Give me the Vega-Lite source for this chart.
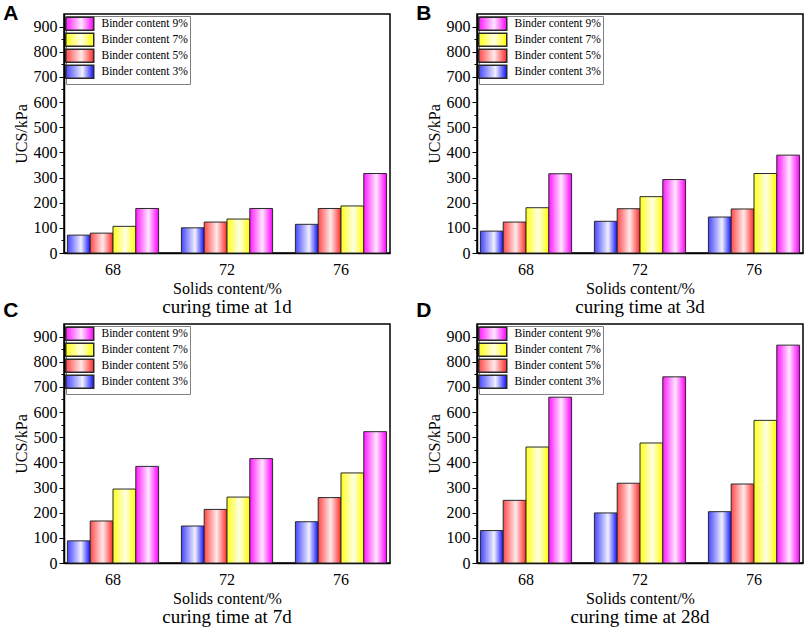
{
  "$schema": "https://vega.github.io/schema/vega-lite/v6.json",
  "padding": {"left": 3, "top": 3, "right": 3, "bottom": 3},
  "background": "white",
  "data": {
    "values": [
      {"panel": "A", "solids": "68", "binder": "Binder content 3%", "ucs": 71},
      {"panel": "A", "solids": "68", "binder": "Binder content 5%", "ucs": 79},
      {"panel": "A", "solids": "68", "binder": "Binder content 7%", "ucs": 106},
      {"panel": "A", "solids": "68", "binder": "Binder content 9%", "ucs": 177},
      {"panel": "A", "solids": "72", "binder": "Binder content 3%", "ucs": 100},
      {"panel": "A", "solids": "72", "binder": "Binder content 5%", "ucs": 123},
      {"panel": "A", "solids": "72", "binder": "Binder content 7%", "ucs": 135},
      {"panel": "A", "solids": "72", "binder": "Binder content 9%", "ucs": 177},
      {"panel": "A", "solids": "76", "binder": "Binder content 3%", "ucs": 114},
      {"panel": "A", "solids": "76", "binder": "Binder content 5%", "ucs": 177},
      {"panel": "A", "solids": "76", "binder": "Binder content 7%", "ucs": 187},
      {"panel": "A", "solids": "76", "binder": "Binder content 9%", "ucs": 316},
      {"panel": "B", "solids": "68", "binder": "Binder content 3%", "ucs": 87},
      {"panel": "B", "solids": "68", "binder": "Binder content 5%", "ucs": 123},
      {"panel": "B", "solids": "68", "binder": "Binder content 7%", "ucs": 180},
      {"panel": "B", "solids": "68", "binder": "Binder content 9%", "ucs": 315},
      {"panel": "B", "solids": "72", "binder": "Binder content 3%", "ucs": 126},
      {"panel": "B", "solids": "72", "binder": "Binder content 5%", "ucs": 176},
      {"panel": "B", "solids": "72", "binder": "Binder content 7%", "ucs": 224},
      {"panel": "B", "solids": "72", "binder": "Binder content 9%", "ucs": 292},
      {"panel": "B", "solids": "76", "binder": "Binder content 3%", "ucs": 143},
      {"panel": "B", "solids": "76", "binder": "Binder content 5%", "ucs": 175},
      {"panel": "B", "solids": "76", "binder": "Binder content 7%", "ucs": 316},
      {"panel": "B", "solids": "76", "binder": "Binder content 9%", "ucs": 389},
      {"panel": "C", "solids": "68", "binder": "Binder content 3%", "ucs": 88},
      {"panel": "C", "solids": "68", "binder": "Binder content 5%", "ucs": 167},
      {"panel": "C", "solids": "68", "binder": "Binder content 7%", "ucs": 294},
      {"panel": "C", "solids": "68", "binder": "Binder content 9%", "ucs": 384},
      {"panel": "C", "solids": "72", "binder": "Binder content 3%", "ucs": 147},
      {"panel": "C", "solids": "72", "binder": "Binder content 5%", "ucs": 213},
      {"panel": "C", "solids": "72", "binder": "Binder content 7%", "ucs": 262},
      {"panel": "C", "solids": "72", "binder": "Binder content 9%", "ucs": 415},
      {"panel": "C", "solids": "76", "binder": "Binder content 3%", "ucs": 164},
      {"panel": "C", "solids": "76", "binder": "Binder content 5%", "ucs": 260},
      {"panel": "C", "solids": "76", "binder": "Binder content 7%", "ucs": 358},
      {"panel": "C", "solids": "76", "binder": "Binder content 9%", "ucs": 522},
      {"panel": "D", "solids": "68", "binder": "Binder content 3%", "ucs": 129},
      {"panel": "D", "solids": "68", "binder": "Binder content 5%", "ucs": 249},
      {"panel": "D", "solids": "68", "binder": "Binder content 7%", "ucs": 461},
      {"panel": "D", "solids": "68", "binder": "Binder content 9%", "ucs": 659},
      {"panel": "D", "solids": "72", "binder": "Binder content 3%", "ucs": 199},
      {"panel": "D", "solids": "72", "binder": "Binder content 5%", "ucs": 317},
      {"panel": "D", "solids": "72", "binder": "Binder content 7%", "ucs": 477},
      {"panel": "D", "solids": "72", "binder": "Binder content 9%", "ucs": 740},
      {"panel": "D", "solids": "76", "binder": "Binder content 3%", "ucs": 204},
      {"panel": "D", "solids": "76", "binder": "Binder content 5%", "ucs": 314},
      {"panel": "D", "solids": "76", "binder": "Binder content 7%", "ucs": 567},
      {"panel": "D", "solids": "76", "binder": "Binder content 9%", "ucs": 866}
    ]
  },
  "config": {
    "view": {"stroke": "black", "strokeWidth": 1.5},
    "concat": {"spacing": 25},
    "axis": {
      "domainColor": "black",
      "domainWidth": 1.5,
      "tickColor": "black",
      "labelColor": "black",
      "titleColor": "black",
      "labelFont": "Liberation Serif",
      "titleFont": "Liberation Serif",
      "labelFontSize": 16,
      "titleFontSize": 16,
      "titleFontWeight": "normal",
      "grid": false
    },
    "legend": {
      "orient": "top-left",
      "offset": 2,
      "padding": 2,
      "fillColor": "white",
      "strokeColor": "#808080",
      "symbolType": "M-3.5,-1.6H3.5V1.6H-3.5Z",
      "symbolSize": 64,
      "symbolOffset": 6,
      "symbolOpacity": 1,
      "labelFont": "Liberation Serif",
      "labelFontSize": 11.5,
      "labelColor": "black",
      "labelOffset": 16,
      "rowPadding": -4
    }
  },
  "resolve": {"scale": {"fill": "independent"}},
  "spacing": -18,
  "vconcat": [
    {
      "resolve": {"scale": {"fill": "independent"}},
      "hconcat": [
        {
          "title": {"text": "A", "anchor": "start", "frame": "bounds", "font": "Liberation Sans", "fontSize": 21, "fontWeight": "bold", "color": "black", "offset": -11, "dx": -9},
          "resolve": {"scale": {"fill": "independent"}},
          "vconcat": [
            {
              "width": 326,
              "height": 239,
              "title": {"text": "curing time at 1d", "orient": "bottom", "font": "Liberation Serif", "fontSize": 19, "fontWeight": "normal", "color": "black", "offset": 2},
              "transform": [{"filter": "datum.panel === 'A'"}],
              "mark": {"type": "bar", "stroke": "#2a2a2a", "strokeWidth": 1},
              "encoding": {
                "x": {"field": "solids", "type": "nominal", "scale": {"paddingInner": 0.2, "paddingOuter": 0.03}, "axis": {"labelAngle": 0, "ticks": false, "tickSize": 0, "labelPadding": 8, "title": "Solids content/%", "titlePadding": 3, "labelFont": "Liberation Serif", "titleFont": "Liberation Serif"}},
                "xOffset": {"field": "binder", "type": "nominal", "sort": ["Binder content 3%", "Binder content 5%", "Binder content 7%", "Binder content 9%"]},
                "y": {"field": "ucs", "type": "quantitative", "scale": {"domain": [0, 950], "nice": false}, "axis": {"title": "UCS/kPa", "titlePadding": 4, "labelPadding": 2, "labelFont": "Liberation Serif", "titleFont": "Liberation Serif", "values": [0, 50, 100, 150, 200, 250, 300, 350, 400, 450, 500, 550, 600, 650, 700, 750, 800, 850, 900], "labelExpr": "datum.value % 100 === 0 ? datum.label : ''", "tickSize": {"condition": {"test": "datum.value % 100 === 0", "value": 5}, "value": 3}}},
                "fill": {
                  "field": "binder", "type": "nominal",
                  "scale": {
                    "domain": ["Binder content 9%", "Binder content 7%", "Binder content 5%", "Binder content 3%"],
                    "range": [
                      {"expr": "{id: 'gMag', gradient: 'linear', x1: 0, y1: 0, x2: 1, y2: 0, stops: [{offset: 0, color: '#ff1aff'}, {offset: 0.55, color: '#ffe6ff'}, {offset: 1, color: '#ff00ff'}]}"},
                      {"expr": "{id: 'gYel', gradient: 'linear', x1: 0, y1: 0, x2: 1, y2: 0, stops: [{offset: 0, color: '#ffff1a'}, {offset: 0.55, color: '#ffffe6'}, {offset: 1, color: '#ffff00'}]}"},
                      {"expr": "{id: 'gRed', gradient: 'linear', x1: 0, y1: 0, x2: 1, y2: 0, stops: [{offset: 0, color: '#ff4a4a'}, {offset: 0.55, color: '#ffeaea'}, {offset: 1, color: '#ff2a2a'}]}"},
                      {"expr": "{id: 'gBlu', gradient: 'linear', x1: 0, y1: 0, x2: 1, y2: 0, stops: [{offset: 0, color: '#4646ff'}, {offset: 0.6, color: '#f0f0ff'}, {offset: 1, color: '#1010ff'}]}"}
                    ]
                  },
                  "legend": {"title": null, "encode": {"symbols": {"update": {"stroke": {"value": "#2a2a2a"}, "strokeWidth": {"value": 1}}}}}
                }
              }
            }
          ]
        },
        {
          "title": {"text": "B", "anchor": "start", "frame": "bounds", "font": "Liberation Sans", "fontSize": 21, "fontWeight": "bold", "color": "black", "offset": -11, "dx": -9},
          "resolve": {"scale": {"fill": "independent"}},
          "vconcat": [
            {
              "width": 326,
              "height": 239,
              "title": {"text": "curing time at 3d", "orient": "bottom", "font": "Liberation Serif", "fontSize": 19, "fontWeight": "normal", "color": "black", "offset": 2},
              "transform": [{"filter": "datum.panel === 'B'"}],
              "mark": {"type": "bar", "stroke": "#2a2a2a", "strokeWidth": 1},
              "encoding": {
                "x": {"field": "solids", "type": "nominal", "scale": {"paddingInner": 0.2, "paddingOuter": 0.03}, "axis": {"labelAngle": 0, "ticks": false, "tickSize": 0, "labelPadding": 8, "title": "Solids content/%", "titlePadding": 3, "labelFont": "Liberation Serif", "titleFont": "Liberation Serif"}},
                "xOffset": {"field": "binder", "type": "nominal", "sort": ["Binder content 3%", "Binder content 5%", "Binder content 7%", "Binder content 9%"]},
                "y": {"field": "ucs", "type": "quantitative", "scale": {"domain": [0, 950], "nice": false}, "axis": {"title": "UCS/kPa", "titlePadding": 4, "labelPadding": 2, "labelFont": "Liberation Serif", "titleFont": "Liberation Serif", "values": [0, 50, 100, 150, 200, 250, 300, 350, 400, 450, 500, 550, 600, 650, 700, 750, 800, 850, 900], "labelExpr": "datum.value % 100 === 0 ? datum.label : ''", "tickSize": {"condition": {"test": "datum.value % 100 === 0", "value": 5}, "value": 3}}},
                "fill": {
                  "field": "binder", "type": "nominal",
                  "scale": {
                    "domain": ["Binder content 9%", "Binder content 7%", "Binder content 5%", "Binder content 3%"],
                    "range": [
                      {"expr": "{id: 'gMag', gradient: 'linear', x1: 0, y1: 0, x2: 1, y2: 0, stops: [{offset: 0, color: '#ff1aff'}, {offset: 0.55, color: '#ffe6ff'}, {offset: 1, color: '#ff00ff'}]}"},
                      {"expr": "{id: 'gYel', gradient: 'linear', x1: 0, y1: 0, x2: 1, y2: 0, stops: [{offset: 0, color: '#ffff1a'}, {offset: 0.55, color: '#ffffe6'}, {offset: 1, color: '#ffff00'}]}"},
                      {"expr": "{id: 'gRed', gradient: 'linear', x1: 0, y1: 0, x2: 1, y2: 0, stops: [{offset: 0, color: '#ff4a4a'}, {offset: 0.55, color: '#ffeaea'}, {offset: 1, color: '#ff2a2a'}]}"},
                      {"expr": "{id: 'gBlu', gradient: 'linear', x1: 0, y1: 0, x2: 1, y2: 0, stops: [{offset: 0, color: '#4646ff'}, {offset: 0.6, color: '#f0f0ff'}, {offset: 1, color: '#1010ff'}]}"}
                    ]
                  },
                  "legend": {"title": null, "encode": {"symbols": {"update": {"stroke": {"value": "#2a2a2a"}, "strokeWidth": {"value": 1}}}}}
                }
              }
            }
          ]
        }
      ]
    },
    {
      "resolve": {"scale": {"fill": "independent"}},
      "hconcat": [
        {
          "title": {"text": "C", "anchor": "start", "frame": "bounds", "font": "Liberation Sans", "fontSize": 21, "fontWeight": "bold", "color": "black", "offset": 2, "dx": -9},
          "resolve": {"scale": {"fill": "independent"}},
          "vconcat": [
            {
              "width": 326,
              "height": 239,
              "title": {"text": "curing time at 7d", "orient": "bottom", "font": "Liberation Serif", "fontSize": 19, "fontWeight": "normal", "color": "black", "offset": 2},
              "transform": [{"filter": "datum.panel === 'C'"}],
              "mark": {"type": "bar", "stroke": "#2a2a2a", "strokeWidth": 1},
              "encoding": {
                "x": {"field": "solids", "type": "nominal", "scale": {"paddingInner": 0.2, "paddingOuter": 0.03}, "axis": {"labelAngle": 0, "ticks": false, "tickSize": 0, "labelPadding": 8, "title": "Solids content/%", "titlePadding": 3, "labelFont": "Liberation Serif", "titleFont": "Liberation Serif"}},
                "xOffset": {"field": "binder", "type": "nominal", "sort": ["Binder content 3%", "Binder content 5%", "Binder content 7%", "Binder content 9%"]},
                "y": {"field": "ucs", "type": "quantitative", "scale": {"domain": [0, 950], "nice": false}, "axis": {"title": "UCS/kPa", "titlePadding": 4, "labelPadding": 2, "labelFont": "Liberation Serif", "titleFont": "Liberation Serif", "values": [0, 50, 100, 150, 200, 250, 300, 350, 400, 450, 500, 550, 600, 650, 700, 750, 800, 850, 900], "labelExpr": "datum.value % 100 === 0 ? datum.label : ''", "tickSize": {"condition": {"test": "datum.value % 100 === 0", "value": 5}, "value": 3}}},
                "fill": {
                  "field": "binder", "type": "nominal",
                  "scale": {
                    "domain": ["Binder content 9%", "Binder content 7%", "Binder content 5%", "Binder content 3%"],
                    "range": [
                      {"expr": "{id: 'gMag', gradient: 'linear', x1: 0, y1: 0, x2: 1, y2: 0, stops: [{offset: 0, color: '#ff1aff'}, {offset: 0.55, color: '#ffe6ff'}, {offset: 1, color: '#ff00ff'}]}"},
                      {"expr": "{id: 'gYel', gradient: 'linear', x1: 0, y1: 0, x2: 1, y2: 0, stops: [{offset: 0, color: '#ffff1a'}, {offset: 0.55, color: '#ffffe6'}, {offset: 1, color: '#ffff00'}]}"},
                      {"expr": "{id: 'gRed', gradient: 'linear', x1: 0, y1: 0, x2: 1, y2: 0, stops: [{offset: 0, color: '#ff4a4a'}, {offset: 0.55, color: '#ffeaea'}, {offset: 1, color: '#ff2a2a'}]}"},
                      {"expr": "{id: 'gBlu', gradient: 'linear', x1: 0, y1: 0, x2: 1, y2: 0, stops: [{offset: 0, color: '#4646ff'}, {offset: 0.6, color: '#f0f0ff'}, {offset: 1, color: '#1010ff'}]}"}
                    ]
                  },
                  "legend": {"title": null, "encode": {"symbols": {"update": {"stroke": {"value": "#2a2a2a"}, "strokeWidth": {"value": 1}}}}}
                }
              }
            }
          ]
        },
        {
          "title": {"text": "D", "anchor": "start", "frame": "bounds", "font": "Liberation Sans", "fontSize": 21, "fontWeight": "bold", "color": "black", "offset": 2, "dx": -9},
          "resolve": {"scale": {"fill": "independent"}},
          "vconcat": [
            {
              "width": 326,
              "height": 239,
              "title": {"text": "curing time at 28d", "orient": "bottom", "font": "Liberation Serif", "fontSize": 19, "fontWeight": "normal", "color": "black", "offset": 2},
              "transform": [{"filter": "datum.panel === 'D'"}],
              "mark": {"type": "bar", "stroke": "#2a2a2a", "strokeWidth": 1},
              "encoding": {
                "x": {"field": "solids", "type": "nominal", "scale": {"paddingInner": 0.2, "paddingOuter": 0.03}, "axis": {"labelAngle": 0, "ticks": false, "tickSize": 0, "labelPadding": 8, "title": "Solids content/%", "titlePadding": 3, "labelFont": "Liberation Serif", "titleFont": "Liberation Serif"}},
                "xOffset": {"field": "binder", "type": "nominal", "sort": ["Binder content 3%", "Binder content 5%", "Binder content 7%", "Binder content 9%"]},
                "y": {"field": "ucs", "type": "quantitative", "scale": {"domain": [0, 950], "nice": false}, "axis": {"title": "UCS/kPa", "titlePadding": 4, "labelPadding": 2, "labelFont": "Liberation Serif", "titleFont": "Liberation Serif", "values": [0, 50, 100, 150, 200, 250, 300, 350, 400, 450, 500, 550, 600, 650, 700, 750, 800, 850, 900], "labelExpr": "datum.value % 100 === 0 ? datum.label : ''", "tickSize": {"condition": {"test": "datum.value % 100 === 0", "value": 5}, "value": 3}}},
                "fill": {
                  "field": "binder", "type": "nominal",
                  "scale": {
                    "domain": ["Binder content 9%", "Binder content 7%", "Binder content 5%", "Binder content 3%"],
                    "range": [
                      {"expr": "{id: 'gMag', gradient: 'linear', x1: 0, y1: 0, x2: 1, y2: 0, stops: [{offset: 0, color: '#ff1aff'}, {offset: 0.55, color: '#ffe6ff'}, {offset: 1, color: '#ff00ff'}]}"},
                      {"expr": "{id: 'gYel', gradient: 'linear', x1: 0, y1: 0, x2: 1, y2: 0, stops: [{offset: 0, color: '#ffff1a'}, {offset: 0.55, color: '#ffffe6'}, {offset: 1, color: '#ffff00'}]}"},
                      {"expr": "{id: 'gRed', gradient: 'linear', x1: 0, y1: 0, x2: 1, y2: 0, stops: [{offset: 0, color: '#ff4a4a'}, {offset: 0.55, color: '#ffeaea'}, {offset: 1, color: '#ff2a2a'}]}"},
                      {"expr": "{id: 'gBlu', gradient: 'linear', x1: 0, y1: 0, x2: 1, y2: 0, stops: [{offset: 0, color: '#4646ff'}, {offset: 0.6, color: '#f0f0ff'}, {offset: 1, color: '#1010ff'}]}"}
                    ]
                  },
                  "legend": {"title": null, "encode": {"symbols": {"update": {"stroke": {"value": "#2a2a2a"}, "strokeWidth": {"value": 1}}}}}
                }
              }
            }
          ]
        }
      ]
    }
  ]
}
